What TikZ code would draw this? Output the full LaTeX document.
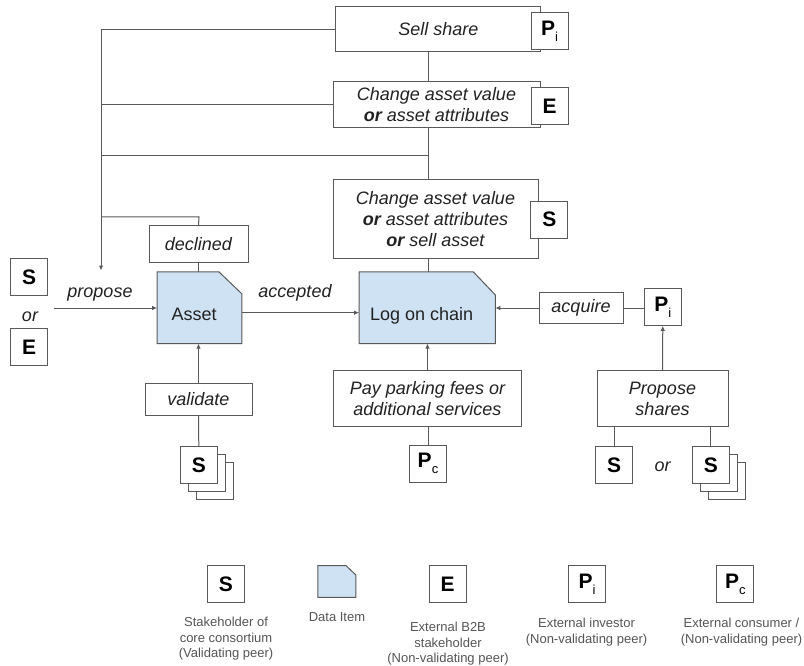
\documentclass[tikz,border=0pt]{standalone}
\usepackage{fontspec}
\setmainfont{Liberation Sans}
\usetikzlibrary{arrows.meta}
\definecolor{linec}{HTML}{595959}
\definecolor{txtc}{HTML}{222222}
\definecolor{legc}{HTML}{555555}
\definecolor{dfill}{HTML}{CFE2F3}
\newcommand\roleP[1]{P\raisebox{-6pt}{\fontsize{13}{13}\selectfont\mdseries #1}}
\tikzset{
  conn/.style={draw=linec, line width=1pt},
  arr/.style={conn, -{Latex[length=5pt,width=4.5pt]}},
  actbox/.style={draw=linec, line width=1pt, fill=white, inner sep=0pt, align=center,
    text=txtc, font=\fontsize{18}{21}\selectfont\itshape},
  rolebox/.style={draw=linec, line width=1pt, fill=white, inner sep=0pt,
    minimum width=37pt, minimum height=37pt, text=black,
    font=\fontsize{21}{21}\selectfont\bfseries},
  lbl/.style={text=txtc, font=\fontsize{18}{21}\selectfont\itshape, inner sep=0pt, anchor=base},
  datatxt/.style={text=txtc, font=\fontsize{18}{21}\selectfont, inner sep=0pt, anchor=base},
  legtext/.style={text=legc, font=\fontsize{13}{15.5}\selectfont, align=center, anchor=north, inner sep=0pt},
  dataitem/.style={inner sep=0pt},
  datafill/.style={fill=dfill, draw=linec, line width=1pt},
}
\begin{document}
\begin{tikzpicture}[x=1pt,y=-1pt]
\useasboundingbox (0,0) rectangle (804,666);
\fill[white] (0,0) rectangle (804,666);

% coordinates for buses
\coordinate (vx) at (428,0);
\coordinate (bustop) at (101,30);
\coordinate (busend) at (101,270.5);
\coordinate (j1) at (428,156);
\coordinate (j2) at (199,217);
\coordinate (propsrc) at (54.3,308);

% top action boxes
\node[actbox, minimum width=205pt, minimum height=45pt] (sell) at (438.3,29.5) {Sell share};
\node[rolebox] (pitop) at (549.5,30.8) {\roleP{i}};
\node[actbox, minimum width=207pt, minimum height=46pt] (chgE) at (436.5,105) {Change asset value\\\textbf{or} asset attributes};
\node[rolebox] (etop) at (549.5,106) {E};
\node[actbox, minimum width=205pt, minimum height=78pt] (chgS) at (435.5,219) {Change asset value\\\textbf{or} asset attributes\\\textbf{or} sell asset};
\node[rolebox] (stop) at (549.3,219.7) {S};

% data items
\node[dataitem, minimum width=84.4pt, minimum height=71.3pt] (asset) at (199.5,307.7) {};
\fill[datafill] (asset.south west) -- (asset.north west) -- ([xshift=-23pt]asset.north east)
  -- ([yshift=-22pt]asset.north east) -- (asset.south east) -- cycle;
\node[datatxt] at (194.2,320) {Asset};
\node[dataitem, minimum width=135.7pt, minimum height=71.3pt] (log) at (427.2,307.7) {};
\fill[datafill] (log.south west) -- (log.north west) -- ([xshift=-22pt]log.north east)
  -- ([yshift=-23pt]log.north east) -- (log.south east) -- cycle;
\node[datatxt] at (421.7,320) {Log on chain};

% declined
\node[actbox, minimum width=99pt, minimum height=36.7pt] (declined) at (198.5,244.3) {declined};

% left proposers
\node[rolebox] (sleft) at (29.2,277.2) {S};
\node[lbl] (orleft) at (30,321.7) {or};
\node[rolebox] (eleft) at (29.2,347) {E};
\node[lbl] (proplbl) at (100,297) {propose};
\node[lbl] (acclbl) at (295,297.5) {accepted};

% validate
\node[actbox, minimum width=107pt, minimum height=31.7pt] (validate) at (198.5,399.2) {validate};
\node[rolebox] (vs3) at (214.8,480.8) {};
\node[rolebox] (vs2) at (206.8,472.8) {};
\node[rolebox] (vs1) at (198.8,464.8) {S};

% pay parking
\node[actbox, minimum width=188.4pt, minimum height=56pt] (pay) at (427.5,398.7) {Pay parking fees or\\additional services};
\node[rolebox] (pc) at (428,463.7) {\roleP{c}};

% acquire / propose shares
\node[actbox, minimum width=84pt, minimum height=30.6pt] (acquire) at (581,308) {acquire};
\node[rolebox] (piright) at (662.8,306.8) {\roleP{i}};
\node[actbox, minimum width=131pt, minimum height=56pt] (propsh) at (662.5,398.7) {Propose\\shares};
\node[rolebox] (sl) at (614.2,464.8) {S};
\node[lbl] (orright) at (662.7,471.7) {or};
\node[rolebox] (rs3) at (726.8,480.8) {};
\node[rolebox] (rs2) at (718.8,472.8) {};
\node[rolebox] (rs1) at (710.8,464.8) {S};

% connectors: top bus
\draw[conn] (sell.south -| vx) -- (chgE.north -| vx);
\draw[conn] (chgE.south -| vx) -- (chgS.north -| vx);
\draw[conn] (chgS.south -| vx) -- (log.north -| vx);
\draw[arr] (sell.west) -- (sell.west -| bustop) -- (busend);
\draw[conn] (chgE.west) -- (chgE.west -| bustop);
\draw[conn] (j1) -- (j1 -| bustop);
\draw[conn] (declined.north) -- (j2) -- (j2 -| bustop);
\draw[conn] (declined.south) -- (asset.north -| declined.south);

% main flow
\draw[arr] (propsrc) -- (propsrc -| asset.west);
\draw[arr] ([yshift=-5pt]asset.east) -- ([yshift=-5pt]log.west);
\draw[arr] (acquire.west) -- (acquire.west -| log.east);
\draw[conn] (acquire.east) -- (acquire.east -| piright.west);
\draw[arr] (propsh.north) -- (piright.south);
\draw[conn] (sl.north) -- (sl.north |- propsh.south);
\draw[conn] (rs1.north) -- (rs1.north |- propsh.south);
\draw[arr] (validate.north) -- (validate.north |- asset.south);
\draw[conn] (vs1.north) -- (validate.south);
\draw[arr] (pay.north) -- (pay.north |- log.south);
\draw[conn] (pc.north) -- (pay.south -| pc.north);

% legend
\node[rolebox] (legS) at (226,584.3) {S};
\node[dataitem, minimum width=37.7pt, minimum height=31.3pt] (legD) at (336.9,581.4) {};
\fill[datafill] (legD.south west) -- (legD.north west) -- ([xshift=-10pt]legD.north east)
  -- ([yshift=-9.5pt]legD.north east) -- (legD.south east) -- cycle;
\node[rolebox] (legE) at (447.5,584.3) {E};
\node[rolebox] (legPi) at (587,584.3) {\roleP{i}};
\node[rolebox] (legPc) at (735.4,584.3) {\roleP{c}};
\node[legtext] at (226,617) {Stakeholder of\\core consortium\\(Validating peer)};
\node[legtext] at (337,612.7) {Data Item};
\node[legtext] at (448,622) {External B2B\\stakeholder\\(Non-validating peer)};
\node[legtext] at (586.5,618) {External investor\\(Non-validating peer)};
\node[legtext] at (741.5,618) {External consumer /\\(Non-validating peer)};
\end{tikzpicture}
\end{document}
